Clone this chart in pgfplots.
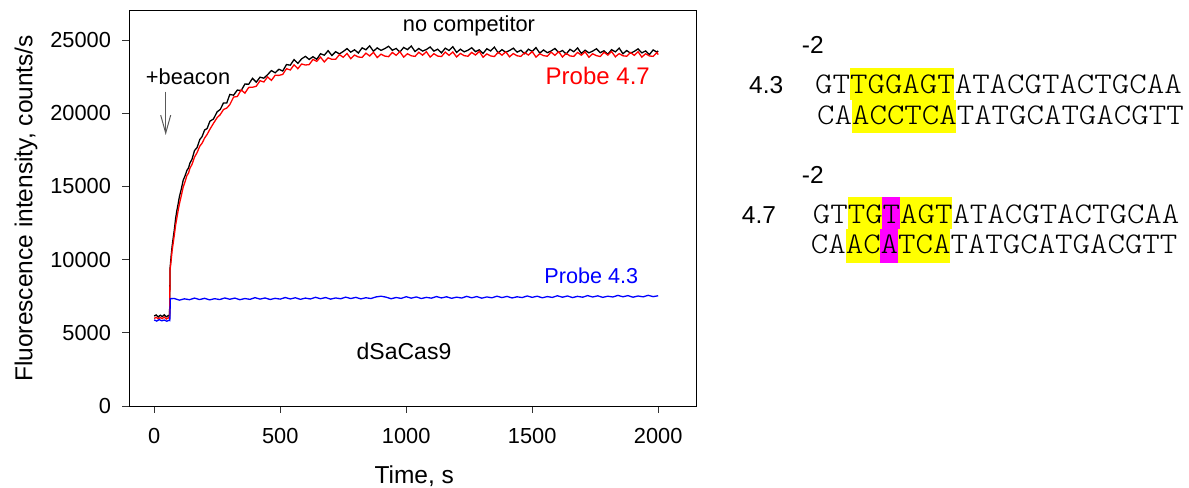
\documentclass[border=0pt]{standalone}
\usepackage{pgfplots}
\pgfplotsset{compat=1.18}
\usetikzlibrary{arrows.meta}
\usepackage{fontspec}
\setmainfont{Liberation Sans}
\newcommand\fs[1]{\fontsize{#1}{#1}\selectfont}
\newcommand\seqfont{\ttfamily\fontseries{l}\selectfont}
\definecolor{hlyellow}{RGB}{255,255,0}
\definecolor{hlmag}{RGB}{255,0,255}
\definecolor{pred}{RGB}{255,0,0}
\definecolor{pblue}{RGB}{0,0,255}

\begin{document}
\begin{tikzpicture}
\useasboundingbox (-129bp,-82bp) rectangle (1060bp,406bp);
\begin{axis}[
  at={(0,0)}, anchor=south west,
  scale only axis, width=567bp, height=395.3bp,
  xmin=-100, xmax=2150, ymin=0, ymax=27000,
  xtick={0,500,1000,1500,2000},
  ytick={0,5000,10000,15000,20000,25000},
  scaled ticks=false,
  tick align=outside, major tick length=6.5bp,
  xtick pos=bottom, ytick pos=left,
  axis line style={line width=0.9bp},
  tick style={line width=0.9bp, black!80},
  /pgf/number format/assume math mode=true,
  /pgf/number format/1000 sep={},
  tick label style={font=\fs{21.8bp}},
  xticklabel style={yshift=-12bp},
  yticklabel style={xshift=-8bp},
  xlabel={Time, s},
  ylabel={Fluorescence intensity, counts/s},
  label style={font=\fs{24.5bp}},
  xlabel style={at={(axis description cs:0.503,-0.195)}, anchor=base},
  ylabel style={at={(axis description cs:-0.1817,0.5)}, anchor=center},
  clip=false,
]
% no competitor
\addplot[black, line width=1.3bp] coordinates {
(0,6150) (8,6220) (16,6080) (24,6200) (32,6110) (40,6230) (48,6090) (56,6180) (61,6120)
(63,9400) (67,10200) (71,10900) (76,11560) (80,12050) (85,12800) (89,13260) (95,13800)
(100,14300) (108,14850) (115,15420) (122,15700) (130,16100) (136,16250) (142,16600)
(150,16850) (160,17450) (170,17650) (181,18200) (190,18400) (200,18850) (210,18950)
(221,19450) (235,19600) (250,20100) (262,20250) (275,20700) (288,20700)
(300,21280) (315,21230) (330,21580) (345,21540) (360,21990) (375,21980) (390,22380)
(405,22120) (420,22460) (435,22390) (450,22630) (465,22910) (480,22760) (495,23000)
(510,22880) (525,23320) (540,23280) (555,23660) (570,23400) (585,23710)
(600,23880) (615,23670) (630,23860) (645,23680) (660,24060) (675,23960) (690,24270)
(705,23940) (720,24200) (735,24050) (750,24210) (765,24410) (780,24170) (795,24330)
(810,24110) (825,24460) (840,24330) (855,24600) (870,24230) (885,24460) (900,24290)
(915,24410) (930,24570) (945,24300) (960,24420) (975,24180) (990,24490) (1005,24340)
(1020,24590) (1035,24210) (1050,24420) (1065,24240) (1080,24350) (1095,24520)
(1110,24240) (1125,24370) (1140,24120) (1155,24440) (1170,24280) (1185,24540)
(1200,24150) (1215,24370) (1230,24190) (1245,24300) (1260,24470) (1275,24200)
(1290,24330) (1305,24080) (1320,24400) (1335,24250) (1350,24510) (1365,24120)
(1380,24340) (1395,24160) (1410,24280) (1425,24440) (1440,24170) (1455,24300)
(1470,24060) (1485,24370) (1500,24220) (1515,24480) (1530,24100) (1545,24320)
(1560,24130) (1575,24250) (1590,24420) (1605,24150) (1620,24280) (1635,24040)
(1650,24360) (1665,24200) (1680,24460) (1695,24080) (1710,24300) (1725,24120)
(1740,24240) (1755,24400) (1770,24130) (1785,24260) (1800,24020) (1815,24340)
(1830,24190) (1845,24450) (1860,24060) (1875,24280) (1890,24100) (1905,24220)
(1920,24390) (1935,24120) (1950,24250) (1965,24000) (1980,24320) (1995,24170)
(2000,24250)
};
% probe 4.7
\addplot[pred, line width=1.3bp] coordinates {
(0,5980) (8,6060) (16,5950) (24,6040) (32,5970) (40,6080) (48,5940) (56,6030) (61,5990)
(63,9300) (67,9900) (71,10600) (76,11200) (80,11700) (85,12350) (89,12750) (95,13350)
(100,13800) (108,14400) (115,14950) (122,15300) (130,15750) (136,15900) (142,16250)
(150,16500) (160,17000) (170,17300) (181,17750) (190,17950) (200,18300) (210,18550)
(221,18900) (235,19300) (250,19700) (262,19900) (275,20250) (288,20350)
(300,20580) (315,21100) (330,21140) (345,21590) (360,21370) (375,21760) (390,21770)
(405,21840) (420,22220) (435,22130) (450,22480) (465,22240) (480,22590) (495,22580)
(510,22650) (525,23040) (540,22950) (555,23300) (570,23040) (585,23360) (600,23290)
(615,23320) (630,23670) (645,23540) (660,23830) (675,23500) (690,23780) (705,23680)
(720,23680) (735,24000) (750,23820) (765,24080) (780,23720) (795,23970) (810,23840)
(825,23810) (840,24100) (855,23910) (870,24160) (885,23800) (900,24030) (915,23900)
(930,23860) (945,24150) (960,23950) (975,24200) (990,23830) (1005,24060) (1020,23920)
(1035,23880) (1050,24160) (1065,23960) (1080,24200) (1095,23830) (1110,24060)
(1125,23900) (1140,23870) (1155,24170) (1170,23950) (1185,24180) (1200,23840)
(1215,24080) (1230,23930) (1245,23890) (1260,24150) (1275,23970) (1290,24220)
(1305,23820) (1320,24050) (1335,23910) (1350,23870) (1365,24160) (1380,23960)
(1395,24190) (1410,23850) (1425,24070) (1440,23920) (1455,23880) (1470,24140)
(1485,23970) (1500,24210) (1515,23830) (1530,24060) (1545,23930) (1560,23890)
(1575,24170) (1590,23950) (1605,24200) (1620,23840) (1635,24080) (1650,23910)
(1665,23880) (1680,24150) (1695,23960) (1710,24190) (1725,23820) (1740,24060)
(1755,23930) (1770,23870) (1785,24160) (1800,23970) (1815,24210) (1830,23850)
(1845,24070) (1860,23920) (1875,23890) (1890,24140) (1905,23950) (1920,24200)
(1935,23830) (1950,24060) (1965,23910) (1980,23880) (1995,24150) (2000,24000)
};
% probe 4.3
\addplot[pblue, line width=1.3bp] coordinates {
(0,5880) (10,5800) (20,5900) (30,5820) (40,5870) (50,5790) (60,5860) (62,5840)
(64,7330) (80,7340) (100,7230) (120,7320) (140,7260) (160,7370) (180,7270) (200,7355)
(220,7250) (240,7330) (260,7270) (280,7380) (300,7290) (320,7370) (340,7260) (360,7340)
(380,7285) (400,7400) (420,7300) (440,7380) (460,7275) (480,7355) (500,7300) (520,7410)
(540,7310) (560,7395) (580,7285) (600,7370) (620,7310) (640,7425) (660,7325) (680,7410)
(700,7300) (720,7380) (740,7325) (760,7435) (780,7340) (800,7420) (820,7315) (840,7395)
(860,7340) (880,7450) (900,7500) (920,7435) (940,7325) (960,7410) (980,7350) (1000,7465)
(1020,7365) (1040,7450) (1060,7340) (1080,7420) (1100,7365) (1120,7475) (1140,7380)
(1160,7460) (1180,7355) (1200,7435) (1220,7375) (1240,7490) (1260,7390) (1280,7475)
(1300,7365) (1320,7450) (1340,7390) (1360,7500) (1380,7405) (1400,7485) (1420,7380)
(1440,7460) (1460,7405) (1480,7515) (1500,7420) (1520,7500) (1540,7390) (1560,7475)
(1580,7415) (1600,7530) (1620,7430) (1640,7515) (1660,7405) (1680,7490) (1700,7430)
(1720,7540) (1740,7445) (1760,7525) (1780,7420) (1800,7500) (1820,7445) (1840,7555)
(1860,7460) (1880,7540) (1900,7430) (1920,7515) (1940,7455) (1960,7560) (1980,7470)
(2000,7530)
};
\end{axis}

% annotations on the chart
\node[anchor=base, inner sep=0, font=\fs{21.8bp}] at (340bp,374.3bp) {no competitor};
\node[anchor=base west, inner sep=0, font=\fs{21.8bp}] at (16.7bp,321bp) {+beacon};
\draw[black!65, line width=1bp, -{Straight Barb[length=18bp,width=10bp]}] (36.7bp,314.3bp) -- (36.7bp,271bp);
\node[anchor=base east, inner sep=0, text=pred, font=\fs{24bp}] at (521bp,321bp) {Probe 4.7};
\node[anchor=base east, inner sep=0, text=pblue, font=\fs{21.6bp}] at (509.3bp,122bp) {Probe 4.3};
\node[anchor=base, inner sep=0, font=\fs{23bp}] at (275bp,46.7bp) {dSaCas9};

% sequences
\fill[hlyellow] (720.8bp,306bp) rectangle (825.2bp,338bp);
\fill[hlyellow] (722.8bp,273bp) rectangle (827.2bp,306bp);
\fill[hlyellow] (718.5bp,177bp) rectangle (822.9bp,209.3bp);
\fill[hlmag] (753.3bp,177bp) rectangle (770.7bp,209.3bp);
\fill[hlyellow] (716.5bp,143.3bp) rectangle (820.9bp,177bp);
\fill[hlmag] (751.3bp,143.3bp) rectangle (768.7bp,177bp);
\node[anchor=base west, inner sep=0, font=\fs{24.5bp}] at (672.7bp,352.7bp) {-2};
\node[anchor=base west, inner sep=0, font=\fs{24.5bp}] at (672.7bp,222.7bp) {-2};
\node[anchor=base west, inner sep=0, font=\fs{24.5bp}] at (620bp,312.7bp) {4.3};
\node[anchor=base west, inner sep=0, font=\fs{24.5bp}] at (612.7bp,182.7bp) {4.7};
\begin{scope}[every node/.style={anchor=base west, inner sep=0, xscale=1.108, transform shape, font=\seqfont\fs{30bp}}]
\node at (686bp,312bp) {GTTGGAGTATACGTACTGCAA};
\node at (688bp,281bp) {CAACCTCATATGCATGACGTT};
\node at (683.7bp,182bp) {GTTGTAGTATACGTACTGCAA};
\node at (681.7bp,152bp) {CAACATCATATGCATGACGTT};
\end{scope}
\end{tikzpicture}
\end{document}
